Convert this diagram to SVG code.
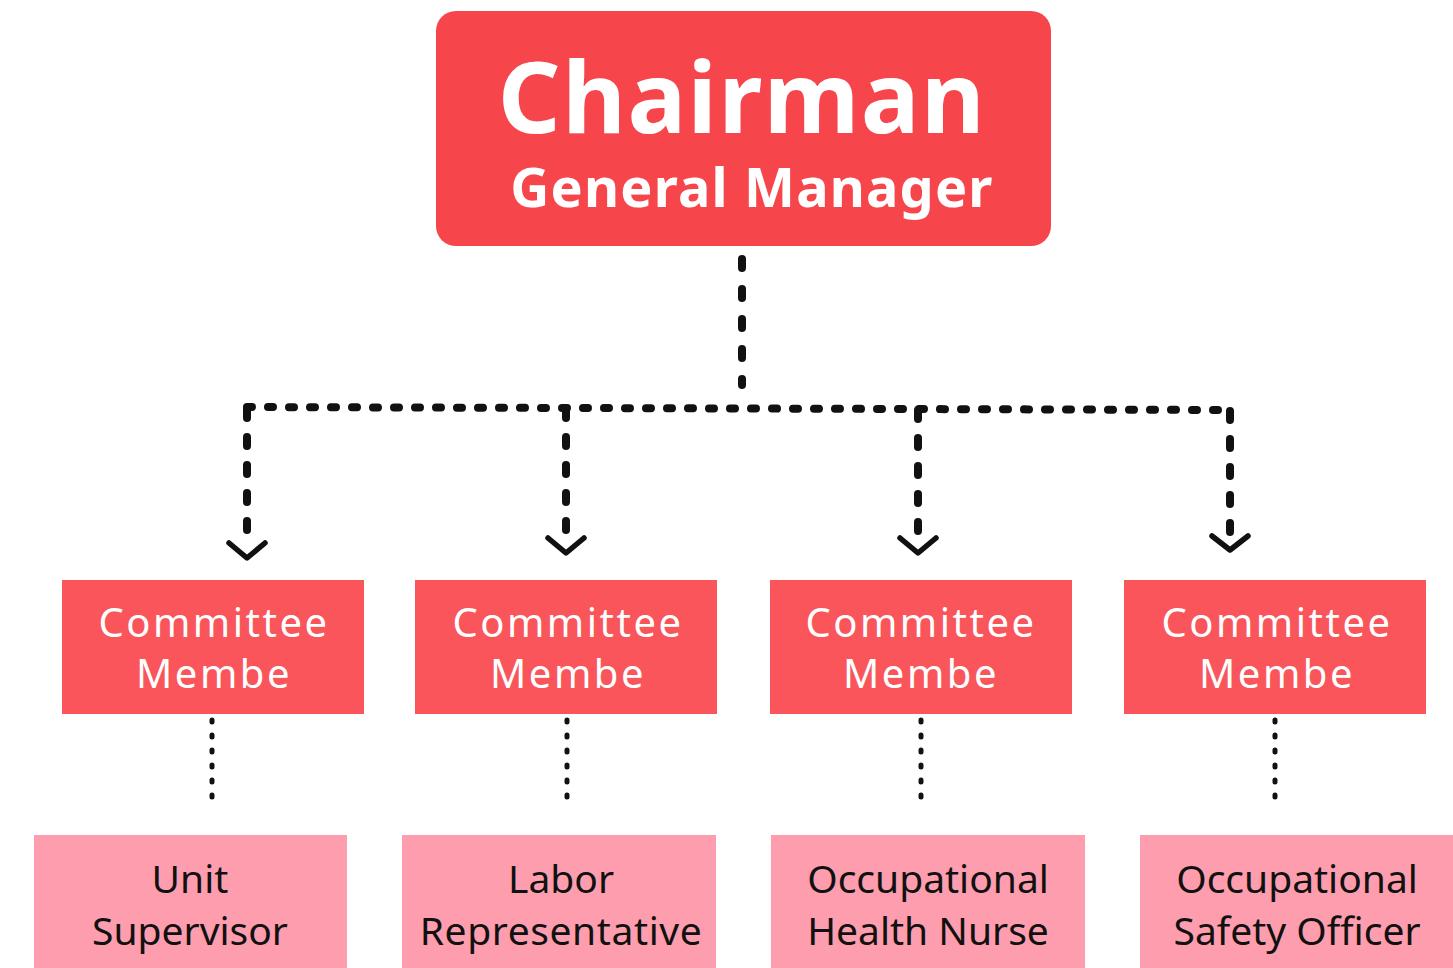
<svg xmlns="http://www.w3.org/2000/svg" width="1453" height="968" viewBox="0 0 1453 968">
<style>
.top{fill:#F7454C}
.mid{fill:#F9555B}
.low{fill:#FD9DAE}
.t1{font-family:"Noto Sans",sans-serif;font-weight:700;fill:#fff;text-anchor:middle}
.t2{font-family:"Noto Sans",sans-serif;font-size:40px;letter-spacing:2.5px;fill:#fff;text-anchor:middle}
.t3{font-family:"Noto Sans",sans-serif;font-size:39px;fill:#111;text-anchor:middle}
.main{fill:none;stroke:#111;stroke-width:8;stroke-linecap:round}
.v{stroke-dasharray:9 21}
.h{stroke-dasharray:5 16}
.dr{stroke-dasharray:9 19}
.arr{fill:none;stroke:#111;stroke-width:5.5;stroke-linecap:round;stroke-linejoin:round}
.dot{fill:none;stroke:#111;stroke-width:5;stroke-linecap:round;stroke-dasharray:2 13}
</style>
<rect width="1453" height="968" fill="#fff"/>
<g id="connectors">
<line class="main v" x1="742" y1="259" x2="742" y2="385"/>
<line class="main h" x1="247" y1="407" x2="1230" y2="410"/>
<line class="main dr" x1="247" y1="409" x2="247" y2="532"/>
<line class="main dr" x1="566" y1="409" x2="566" y2="532"/>
<line class="main dr" x1="918" y1="410" x2="918" y2="532"/>
<line class="main dr" x1="1230" y1="411" x2="1230" y2="532"/>
<polyline class="arr" points="229,543 247,558 265,543"/>
<polyline class="arr" points="548,538 566,553 584,538"/>
<polyline class="arr" points="900,538 918,553 936,538"/>
<polyline class="arr" points="1212,536 1230,550 1248,536"/>
<line class="dot" x1="212" y1="720" x2="212" y2="810"/>
<line class="dot" x1="567" y1="720" x2="567" y2="810"/>
<line class="dot" x1="921" y1="720" x2="921" y2="810"/>
<line class="dot" x1="1275" y1="720" x2="1275" y2="810"/>
</g>
<g id="chairman">
<rect class="top" x="436" y="11" width="615" height="235" rx="20"/>
<text class="t1" x="742" y="133" font-size="98" letter-spacing="1.5">Chairman</text>
<text class="t1" x="752" y="207" font-size="54" letter-spacing="1.2">General Manager</text>
</g>
<g id="cm1"><rect class="mid" x="62" y="580" width="302" height="134"/><text class="t2" x="214" y="637">Committee</text><text class="t2" x="214" y="688">Membe</text></g>
<g id="cm2"><rect class="mid" x="415" y="580" width="302" height="134"/><text class="t2" x="568" y="637">Committee</text><text class="t2" x="568" y="688">Membe</text></g>
<g id="cm3"><rect class="mid" x="770" y="580" width="302" height="134"/><text class="t2" x="921" y="637">Committee</text><text class="t2" x="921" y="688">Membe</text></g>
<g id="cm4"><rect class="mid" x="1124" y="580" width="302" height="134"/><text class="t2" x="1277" y="637">Committee</text><text class="t2" x="1277" y="688">Membe</text></g>
<g id="unit"><rect class="low" x="34" y="835" width="313" height="140"/><text class="t3" x="190" y="893">Unit</text><text class="t3" x="190" y="945">Supervisor</text></g>
<g id="labor"><rect class="low" x="402" y="835" width="314" height="140"/><text class="t3" x="561" y="893">Labor</text><text class="t3" x="561" y="945" letter-spacing="0.6">Representative</text></g>
<g id="nurse"><rect class="low" x="771" y="835" width="314" height="140"/><text class="t3" x="928" y="893">Occupational</text><text class="t3" x="928" y="945">Health Nurse</text></g>
<g id="safety"><rect class="low" x="1140" y="835" width="313" height="140"/><text class="t3" x="1297" y="893">Occupational</text><text class="t3" x="1297" y="945">Safety Officer</text></g>
</svg>
